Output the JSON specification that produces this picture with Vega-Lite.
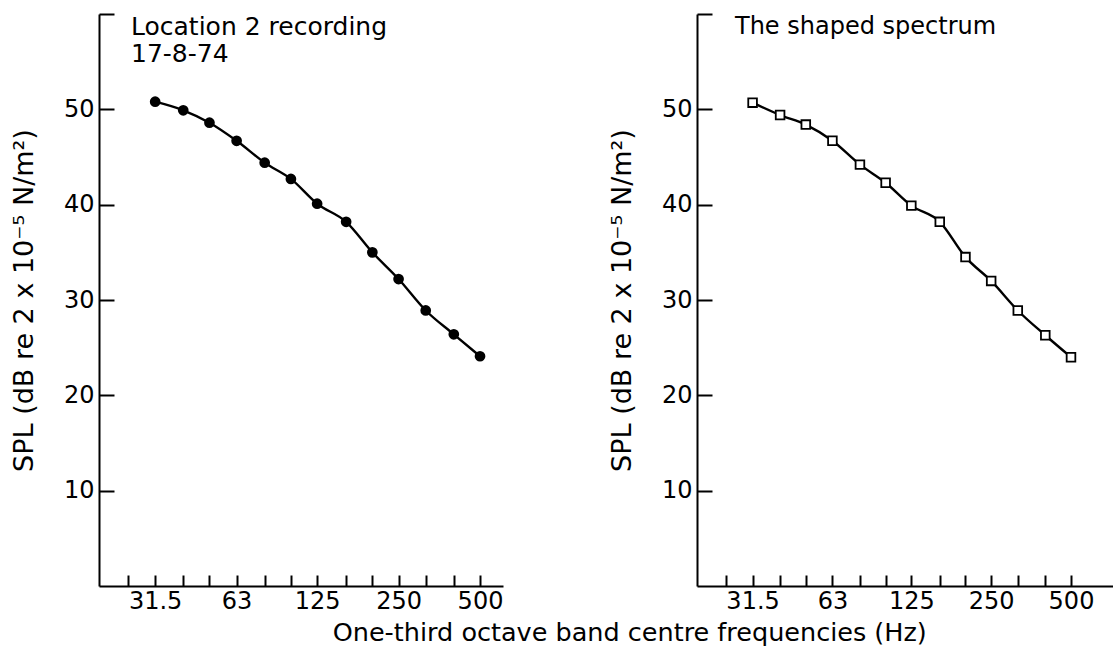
{
  "$schema": "https://vega.github.io/schema/vega-lite/v6.json",
  "background": "white",
  "padding": {"left": 10, "top": 13, "right": 0, "bottom": 0},
  "autosize": {"type": "pad"},
  "config": {
    "view": {"stroke": null},
    "font": "DejaVu Sans",
    "axis": {
      "grid": false,
      "domainColor": "black",
      "domainWidth": 2,
      "tickColor": "black",
      "tickWidth": 2,
      "labelColor": "black",
      "labelFont": "DejaVu Sans",
      "labelFontSize": 24,
      "titleFont": "DejaVu Sans",
      "titleFontSize": 27,
      "titleFontWeight": "normal",
      "titleColor": "black"
    },
    "title": {"font": "DejaVu Sans", "fontWeight": "normal", "color": "black"}
  },
  "datasets": {
    "recording": [
      {"freq": 31.5, "spl": 50.8},
      {"freq": 40, "spl": 49.9},
      {"freq": 50, "spl": 48.6},
      {"freq": 63, "spl": 46.7},
      {"freq": 80, "spl": 44.4},
      {"freq": 100, "spl": 42.7},
      {"freq": 125, "spl": 40.1},
      {"freq": 160, "spl": 38.2},
      {"freq": 200, "spl": 35.0},
      {"freq": 250, "spl": 32.2},
      {"freq": 315, "spl": 28.9},
      {"freq": 400, "spl": 26.4},
      {"freq": 500, "spl": 24.1}
    ],
    "shaped": [
      {"freq": 31.5, "spl": 50.7},
      {"freq": 40, "spl": 49.4},
      {"freq": 50, "spl": 48.4},
      {"freq": 63, "spl": 46.7},
      {"freq": 80, "spl": 44.2},
      {"freq": 100, "spl": 42.3},
      {"freq": 125, "spl": 39.9},
      {"freq": 160, "spl": 38.2},
      {"freq": 200, "spl": 34.5},
      {"freq": 250, "spl": 32.0},
      {"freq": 315, "spl": 28.9},
      {"freq": 400, "spl": 26.3},
      {"freq": 500, "spl": 24.0}
    ]
  },
  "title": {
    "text": "One-third octave band centre frequencies (Hz)",
    "orient": "bottom",
    "anchor": "middle",
    "fontSize": 25.5,
    "offset": 8,
    "dx": 68
  },
  "bounds": "flush",
  "spacing": 194,
  "hconcat": [
    {
      "width": 404,
      "height": 572,
      "data": {"name": "recording"},
      "title": {
        "text": ["Location 2 recording", "17-8-74"],
        "anchor": "start",
        "frame": "group",
        "fontSize": 25,
        "lineHeight": 27,
        "baseline": "top",
        "dx": 32,
        "dy": 58
      },
      "encoding": {
        "x": {
          "field": "freq",
          "type": "quantitative",
          "scale": {"type": "log", "domain": [19.53, 608], "nice": false},
          "axis": {
            "title": null,
            "values": [25, 31.5, 40, 50, 63, 80, 100, 125, 160, 200, 250, 315, 400, 500],
            "labelExpr": "(datum.value == 31.5 || datum.value == 63 || datum.value == 125 || datum.value == 250 || datum.value == 500) ? toString(datum.value) : ''",
            "tickSize": -11,
            "labelPadding": 14
          }
        },
        "y": {
          "field": "spl",
          "type": "quantitative",
          "scale": {"domain": [0, 60], "nice": false},
          "axis": {
            "title": "SPL (dB re 2 x 10⁻⁵ N/m²)",
            "values": [10, 20, 30, 40, 50, 60],
            "labelExpr": "datum.value == 60 ? '' : toString(datum.value)",
            "tickSize": -15,
            "labelPadding": 20,
            "titlePadding": 25
          }
        }
      },
      "layer": [
        {"mark": {"type": "line", "interpolate": "monotone", "color": "black", "strokeWidth": 2.4}},
        {"mark": {"type": "point", "shape": "circle", "filled": true, "color": "black", "opacity": 1, "size": 115}}
      ]
    },
    {
      "width": 416,
      "height": 572,
      "data": {"name": "shaped"},
      "title": {
        "text": "The shaped spectrum",
        "anchor": "start",
        "frame": "group",
        "fontSize": 24,
        "baseline": "top",
        "dx": 38,
        "dy": 30
      },
      "encoding": {
        "x": {
          "field": "freq",
          "type": "quantitative",
          "scale": {"type": "log", "domain": [19.44, 720], "nice": false},
          "axis": {
            "title": null,
            "values": [25, 31.5, 40, 50, 63, 80, 100, 125, 160, 200, 250, 315, 400, 500],
            "labelExpr": "(datum.value == 31.5 || datum.value == 63 || datum.value == 125 || datum.value == 250 || datum.value == 500) ? toString(datum.value) : ''",
            "tickSize": -11,
            "labelPadding": 14
          }
        },
        "y": {
          "field": "spl",
          "type": "quantitative",
          "scale": {"domain": [0, 60], "nice": false},
          "axis": {
            "title": "SPL (dB re 2 x 10⁻⁵ N/m²)",
            "values": [10, 20, 30, 40, 50, 60],
            "labelExpr": "datum.value == 60 ? '' : toString(datum.value)",
            "tickSize": -15,
            "labelPadding": 20,
            "titlePadding": 25
          }
        }
      },
      "layer": [
        {"mark": {"type": "line", "interpolate": "monotone", "color": "black", "strokeWidth": 2.4}},
        {"mark": {"type": "point", "shape": "square", "filled": true, "fill": "white", "stroke": "black", "strokeWidth": 1.8, "opacity": 1, "size": 75}}
      ]
    }
  ]
}
